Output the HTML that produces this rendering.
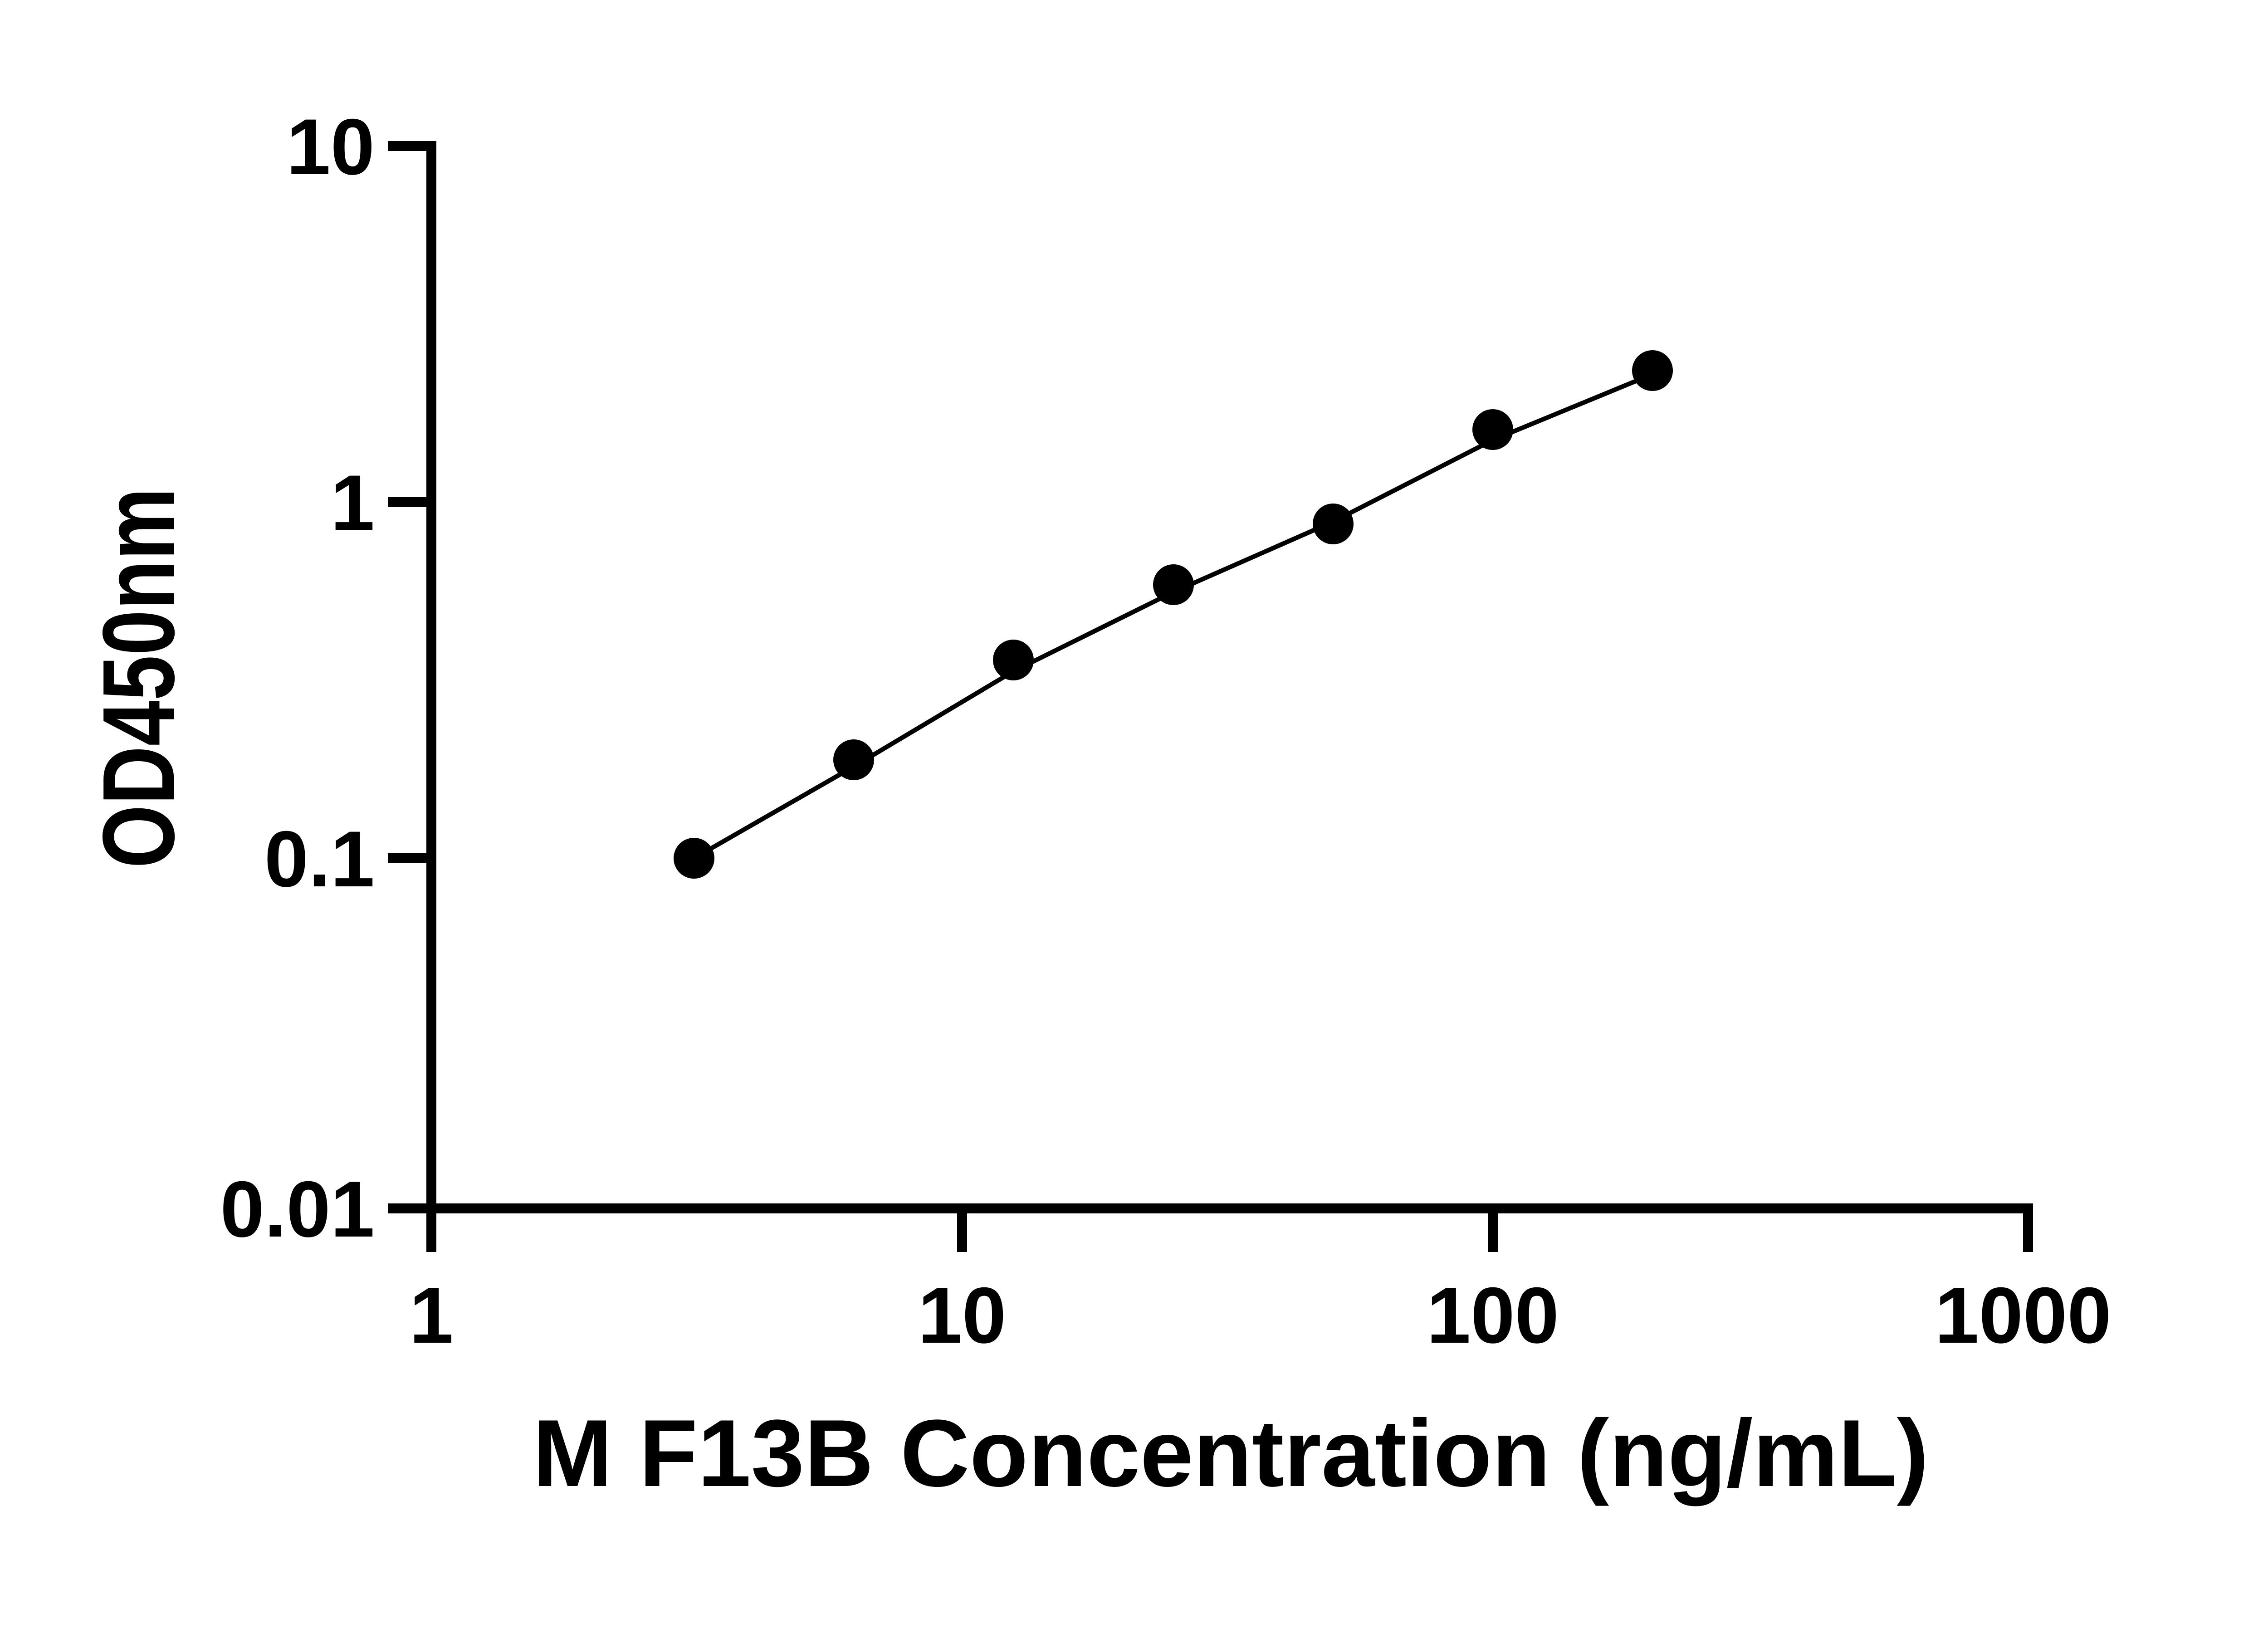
<!DOCTYPE html>
<html><head><meta charset="utf-8"><style>html,body{margin:0;padding:0;background:#fff}svg{display:block}</style></head>
<body>
<svg width="5130" height="3600" viewBox="0 0 5130 3600" xmlns="http://www.w3.org/2000/svg">
<rect width="5130" height="3600" fill="#fff"/>
<g stroke="#000" stroke-width="22" fill="none" stroke-linecap="butt">
<path d="M951 311 V2675"/>
<path d="M940 2664 H4471 V2760"/>
<path d="M855 322 H951 M855 1107 H951 M855 1892 H951 M855 2664 H951"/>
<path d="M951 2664 V2760 M2121 2664 V2760 M3291 2664 V2760"/>
</g>
<g font-family="Liberation Sans, Arial, sans-serif" font-weight="bold" font-size="175" fill="#000">
<text x="826" y="384" text-anchor="end">10</text>
<text x="826" y="1169" text-anchor="end">1</text>
<text x="826" y="1954" text-anchor="end">0.1</text>
<text x="826" y="2726" text-anchor="end">0.01</text>
<text x="951" y="2960" text-anchor="middle">1</text>
<text x="2121" y="2960" text-anchor="middle">10</text>
<text x="3291" y="2960" text-anchor="middle">100</text>
<text x="4460" y="2960" text-anchor="middle">1000</text>
</g>
<text x="1174" y="3276" textLength="3078" lengthAdjust="spacingAndGlyphs" font-family="Liberation Sans, Arial, sans-serif" font-weight="bold" font-size="210">M F13B Concentration (ng/mL)</text>
<text transform="translate(383,1914) rotate(-90)" x="0" y="0" textLength="839" lengthAdjust="spacingAndGlyphs" font-family="Liberation Sans, Arial, sans-serif" font-weight="bold" font-size="225">OD450nm</text>
<polyline points="1530,1892 1882,1690 2234,1480 2587,1305 2939,1150 3291,970 3643,825" stroke="#000" stroke-width="10" fill="none" stroke-linejoin="round"/>
<g fill="#000">
<circle cx="1530" cy="1892" r="45"/>
<circle cx="1882" cy="1675" r="45"/>
<circle cx="2234" cy="1455" r="45"/>
<circle cx="2587" cy="1289" r="45"/>
<circle cx="2939" cy="1155" r="45"/>
<circle cx="3291" cy="947" r="45"/>
<circle cx="3643" cy="817" r="45"/>
</g>
</svg>
</body></html>
